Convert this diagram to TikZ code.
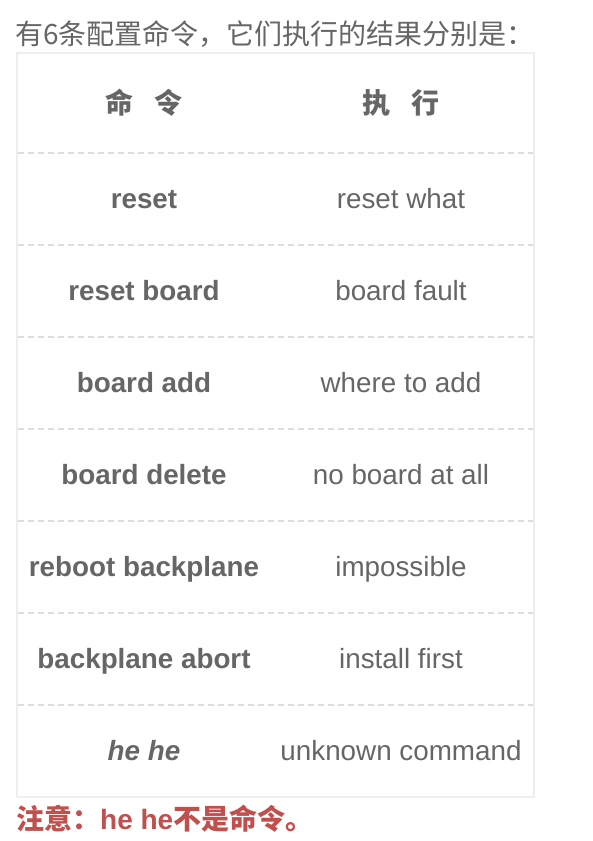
\documentclass[tikz,border=0pt]{standalone}
\usepackage{fontspec}
\setmainfont{Liberation Sans}
\newfontfamily\cjk{Noto Sans CJK SC}
\definecolor{txt}{HTML}{666666}
\definecolor{bordc}{HTML}{EEEEEE}
\definecolor{dashc}{HTML}{DDDDDD}
\definecolor{notec}{HTML}{C0504D}
\begin{document}
\begin{tikzpicture}[x=1pt,y=-1pt,
  cell/.style={anchor=base,inner sep=0pt,text=txt,font=\fontsize{27.8}{30}\selectfont},
  cmd/.style={cell,font=\fontsize{27.8}{30}\selectfont\bfseries},
  head/.style={cell,font=\fontsize{28}{30}\selectfont\cjk\bfseries},
  sep/.style={dashc,line width=1.5pt,dash pattern=on 6pt off 4pt},
  frame/.style={bordc,line width=2pt}]
\useasboundingbox[fill=white] (0,0) rectangle (593,841);
\node[anchor=base west,inner sep=0pt,text=txt,font=\fontsize{28}{30}\selectfont\cjk] (title) at (15,44) {有6条配置命令，它们执行的结果分别是：};
% table frame
\coordinate (tl) at (17,53);
\coordinate (br) at (534,797);
\draw[frame] (tl) rectangle (br);
% separators
\foreach \yy/\nm in {153/a,245/b,337/c,429/d,521/e,613/f,705/g}{
  \coordinate (L\nm) at (18,\yy);
  \coordinate (R\nm) at (533,\yy);
  \draw[sep] (L\nm) -- (R\nm);
}
% header
\node[head] (h1) at (144,113) {命\hspace{22pt}令};
\node[head] (h2) at (401,113) {执\hspace{22pt}行};
% rows
\node[cmd] (c1) at (144,208) {reset};
\node[cell] (r1) at (401,208) {reset what};
\node[cmd] (c2) at (144,300) {reset board};
\node[cell] (r2) at (401,300) {board fault};
\node[cmd] (c3) at (144,392) {board add};
\node[cell] (r3) at (401,392) {where to add};
\node[cmd] (c4) at (144,484) {board delete};
\node[cell] (r4) at (401,484) {no board at all};
\node[cmd] (c5) at (144,576) {reboot backplane};
\node[cell] (r5) at (401,576) {impossible};
\node[cmd] (c6) at (144,668) {backplane abort};
\node[cell] (r6) at (401,668) {install first};
\node[cmd,font=\fontsize{27.8}{30}\selectfont\bfseries\itshape] (c7) at (144,760) {he he};
\node[cell] (r7) at (401,760) {unknown command};
% note
\node[anchor=base west,inner sep=0pt,text=notec,font=\fontsize{28}{30}\selectfont\bfseries] (note) at (16,829) {{\cjk 注意：}he he{\cjk 不是命令。}};
\end{tikzpicture}
\end{document}
